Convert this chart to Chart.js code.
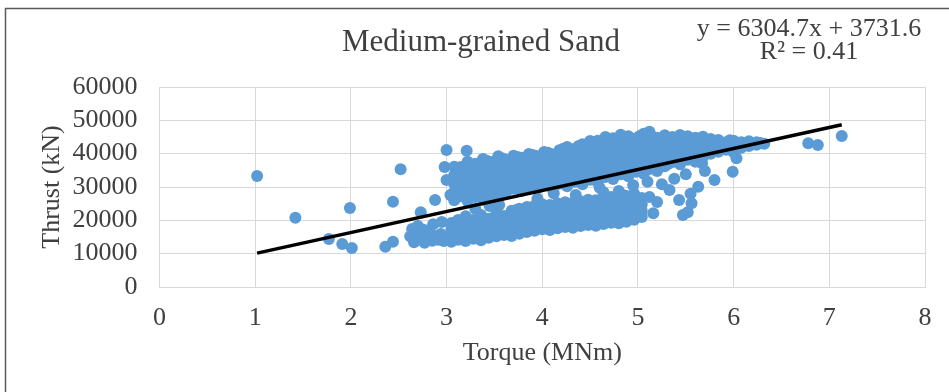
<!DOCTYPE html>
<html>
<head>
<meta charset="utf-8">
<script src="https://cdn.jsdelivr.net/npm/chart.js@4.4.1/dist/chart.umd.min.js"></script>
<style>
  html, body { margin: 0; padding: 0; background: #fff; }
  #wrap { position: relative; width: 949px; height: 392px; }
</style>
</head>
<body>
<div id="wrap"><canvas id="grafico"></canvas></div>
<script>
/* Medium-grained Sand · thrust vs torque scatter */

const xTicks = [0, 1, 2, 3, 4, 5, 6, 7, 8];
const yTicks = [0, 10000, 20000, 30000, 40000, 50000, 60000];

// upper band, read column by column (torque -> thrust values)
const upperTorque = [3.08, 3.15, 3.22, 3.30, 3.38, 3.46, 3.54, 3.62, 3.70, 3.78, 3.86, 3.94,
                     4.02, 4.10, 4.18, 4.26, 4.34, 4.42, 4.50, 4.58, 4.66, 4.74, 4.82, 4.90,
                     4.98, 5.06, 5.12, 5.20, 5.28, 5.36, 5.44, 5.52, 5.60, 5.68, 5.76, 5.84,
                     5.92, 6.00, 6.08, 6.16, 6.24, 6.32];
const upperThrust = [
  [26000, 28500, 31000, 33500, 36100],
  [27200, 29700, 32200, 34700, 36000],
  [25800, 28300, 30800, 33300, 35800, 37600],
  [27000, 29500, 32000, 34500, 37000],
  [26200, 28700, 31200, 33700, 36200, 38400],
  [27500, 30000, 32500, 35000, 37500],
  [26800, 29300, 31800, 34300, 36800, 39200],
  [28200, 30700, 33200, 35700, 38200],
  [29500, 32000, 34500, 37000, 39400],
  [28800, 31300, 33800, 36300, 38800],
  [30200, 32700, 35200, 37700, 39900],
  [29300, 31800, 34300, 36800, 39300],
  [30600, 33100, 35600, 38100, 40500],
  [29800, 32300, 34800, 37300, 39800],
  [31000, 33500, 36000, 38500, 41000],
  [30200, 32700, 35200, 37700, 40200, 42000],
  [31600, 34100, 36600, 39100, 41500],
  [30800, 33300, 35800, 38300, 40800, 42800],
  [32200, 34700, 37200, 39700, 42200, 43800],
  [31400, 33900, 36400, 38900, 41400, 43900],
  [33000, 35500, 38000, 40500, 43000, 45000],
  [32400, 34900, 37400, 39900, 42400, 44600],
  [33800, 36300, 38800, 41300, 43800, 45700],
  [33200, 35700, 38200, 40700, 43200, 45200],
  [34600, 37100, 39600, 42100, 44600],
  [34000, 36500, 39000, 41500, 44000, 46000],
  [35400, 37900, 40400, 42900, 46600],
  [34800, 37300, 39800, 42300, 44800],
  [36200, 38700, 41200, 43700, 45500],
  [37500, 40000, 42500, 45000],
  [36800, 39300, 41800, 44300, 45600],
  [38200, 40700, 43200, 45200],
  [37600, 40100, 42600, 44800],
  [39000, 41500, 43900, 45100],
  [40000, 42500, 44400],
  [40600, 43000, 44100],
  [41200, 43400],
  [40400, 42600, 43900],
  [41800, 43400],
  [42300, 43700],
  [42700, 43400],
  [43000]
];

// points sitting between the upper columns
const upperFillTorque = [3.12, 3.26, 3.42, 3.58, 3.74, 3.90, 4.06, 4.22, 4.38, 4.54, 4.70,
                         4.86, 5.02, 5.16, 5.32, 5.48, 5.64, 5.80, 5.96, 6.12, 6.28];
const upperFillThrust = [
  [30100, 34900],
  [28900, 33600, 36400],
  [29400, 34100, 37900],
  [30500, 35300, 38600],
  [31000, 35800, 39000],
  [31500, 36200, 39600],
  [32000, 36900, 40300],
  [32800, 37400, 41500],
  [33300, 38000, 42300],
  [33700, 38600, 42900],
  [34200, 39200, 44000],
  [35000, 39900, 44800],
  [35600, 40500, 45300],
  [36300, 41100, 45000],
  [37000, 41800, 44600],
  [38300, 42400, 45000],
  [39200, 42900],
  [41500, 43600],
  [42000, 44000],
  [42800],
  [43200]
];

// lower band
const lowerTorque = [3.05, 3.12, 3.20, 3.28, 3.36, 3.44, 3.52, 3.60, 3.68, 3.76, 3.84, 3.92,
                     4.00, 4.08, 4.16, 4.24, 4.32, 4.40, 4.48, 4.56, 4.64, 4.72, 4.80, 4.88,
                     4.96, 5.04];
const lowerThrust = [
  [13600, 15400, 17300, 19200],
  [14200, 16000, 17900, 20100],
  [13800, 15700, 17600, 19500, 21200],
  [14500, 16300, 18200, 20100],
  [14000, 15900, 17800, 19700, 21600],
  [14800, 16700, 18600, 20500],
  [15200, 17100, 19000, 20900, 22500],
  [15600, 17500, 19400, 21300],
  [15300, 17200, 19100, 21000, 22900],
  [16000, 17900, 19800, 21700, 23500],
  [16500, 18400, 20300, 22200, 24000],
  [16900, 18800, 20700, 22600, 24400],
  [17300, 19200, 21100, 23000, 24800],
  [17100, 19000, 20900, 22800, 24600],
  [17600, 19500, 21400, 23300, 25100],
  [18000, 19900, 21800, 23700, 25400],
  [17800, 19700, 21600, 23500, 25300],
  [18300, 20200, 22100, 24000, 25700],
  [18600, 20500, 22400, 24300, 26200],
  [18400, 20300, 22200, 24100, 26000],
  [18900, 20800, 22700, 24600, 26600, 28400],
  [19300, 21200, 23100, 25000, 27000],
  [19100, 21000, 22900, 24800, 26800, 28800],
  [19600, 21500, 23400, 25300, 27300],
  [20200, 22100, 24000, 25900, 28000],
  [21000, 22900, 24800, 26700]
];

const lowerFillTorque = [3.09, 3.24, 3.40, 3.56, 3.72, 3.88, 4.04, 4.20, 4.36, 4.52, 4.68, 4.84, 5.00];
const lowerFillThrust = [
  [14800, 18500],
  [15100, 18900],
  [15500, 19300],
  [16200, 20000],
  [16800, 20500, 23000],
  [17400, 21200, 23600],
  [18100, 21800, 24200],
  [18700, 22500, 24700],
  [19000, 22900, 25000],
  [19500, 23300, 25500],
  [20000, 23900, 26500],
  [20700, 24400, 27600],
  [21800, 25400]
];

// single points: left tail, low cluster, gap, right branch, far right
const looseTorque = [1.02, 1.42, 1.77, 1.91, 2.01, 1.99, 2.36, 2.44, 2.44, 2.52, 2.73, 2.88, 2.98, 3.00, 3.21, 3.04, 3.00,
                     2.62, 2.64, 2.66, 2.69, 2.71, 2.74, 2.77, 2.80, 2.82, 2.85, 2.88, 2.91, 2.94, 2.97, 2.99, 2.70, 2.76, 2.86, 2.95,
                     3.30, 3.45, 3.55, 3.95, 4.12, 4.35, 4.60,
                     5.02, 5.16, 5.12, 5.20, 5.25, 5.33, 5.38, 5.43, 5.47, 5.52, 5.56, 5.55, 5.50, 5.63, 5.67, 5.70, 5.80, 5.99, 6.03, 5.10, 4.95, 4.88,
                     6.78, 6.88, 7.13];
const looseThrust = [33300, 20800, 14400, 12900, 11700, 23700, 12100, 13600, 25600, 35300, 22400, 26100, 36000, 41100, 40900, 27600, 32100,
                     15200, 17400, 13400, 16300, 14300, 15500, 13300, 14900, 16700, 13900, 15300, 14200, 15900, 13800, 14700, 18300, 17200, 18800, 19500,
                     23500, 24300, 24600, 26500, 28100, 27600, 29800,
                     23600, 22100, 27000, 25500, 30800, 29100, 32500, 26100, 21600, 22400, 25100, 28000, 33800, 30100, 37100, 34800, 32100, 34600, 38600, 31600, 30500, 20600,
                     43100, 42600, 45300];

// linear trend as printed on the chart
const trendTorque = [1.02, 7.13];
const trendThrust = [10162, 48685];

const chartTitle = 'Medium-grained Sand';
const eqLines = ['y = 6304.7x + 3731.6', 'R\u00B2 = 0.41'];

const SERIF = "'Liberation Serif', 'Times New Roman', serif";
const TXT = '#404040';

function buildPoints() {
  const pts = [];
  const cols = [
    [upperTorque, upperThrust], [upperFillTorque, upperFillThrust],
    [lowerTorque, lowerThrust], [lowerFillTorque, lowerFillThrust]
  ];
  cols.forEach(([xs, ys]) => xs.forEach((x, i) => ys[i].forEach(y => pts.push({ x, y }))));
  looseTorque.forEach((x, i) => pts.push({ x, y: looseThrust[i] }));
  return pts;
}

// frame, title and equation
const decor = {
  id: 'decor',
  beforeDraw(chart) {
    const c = chart.ctx;
    c.save();
    c.fillStyle = '#fff';
    c.fillRect(0, 0, chart.width, chart.height);
    c.strokeStyle = '#595959';
    c.lineWidth = 1.5;
    c.beginPath();
    c.moveTo(5.5, chart.height);
    c.lineTo(5.5, 8.5);
    c.lineTo(chart.width, 8.5);
    c.stroke();
    c.restore();
  },
  afterDraw(chart) {
    const c = chart.ctx;
    c.save();
    c.fillStyle = TXT;
    c.textAlign = 'center';
    c.textBaseline = 'middle';
    c.font = `31px ${SERIF}`;
    c.fillText(chartTitle, 481, 43);
    c.font = `26px ${SERIF}`;
    c.fillText(eqLines[0], 809, 29);
    c.fillText(eqLines[1], 809, 52);
    c.restore();
  }
};

new Chart(document.getElementById('grafico'), {
  type: 'scatter',
  data: {
    datasets: [
      {
        type: 'line',
        label: 'Linear',
        data: trendTorque.map((x, i) => ({ x, y: trendThrust[i] })),
        borderColor: '#000',
        borderWidth: 3.5,
        pointRadius: 0,
        fill: false,
        order: 0
      },
      {
        label: 'Thrust',
        data: buildPoints(),
        backgroundColor: '#5B9BD5',
        borderWidth: 0,
        pointRadius: 6,
        order: 1
      }
    ]
  },
  options: {
    responsive: true,
    maintainAspectRatio: false,
    animation: false,
    layout: { padding: { left: 0, right: 24, top: 87, bottom: 0 } },
    plugins: {
      legend: { display: false },
      tooltip: { enabled: false },
      title: { display: false }
    },
    scales: {
      x: {
        type: 'linear',
        min: xTicks[0],
        max: xTicks[xTicks.length - 1],
        ticks: { stepSize: xTicks[1] - xTicks[0], autoSkip: false, maxRotation: 0, padding: 16, color: TXT, font: { family: SERIF, size: 26 } },
        grid: { color: '#D9D9D9', drawTicks: false },
        border: { color: '#D9D9D9' },
        title: { display: true, text: 'Torque (MNm)', color: TXT, font: { family: SERIF, size: 26 }, padding: { top: 0, bottom: 23 } },
        afterFit: s => { s.height = 105; }
      },
      y: {
        type: 'linear',
        min: yTicks[0],
        max: yTicks[yTicks.length - 1],
        ticks: { stepSize: yTicks[1] - yTicks[0], autoSkip: false, padding: 22, color: TXT, font: { family: SERIF, size: 26 }, callback: v => String(v) },
        grid: { color: '#D9D9D9', drawTicks: false },
        border: { color: '#D9D9D9' },
        title: { display: true, text: 'Thrust (kN)', color: TXT, font: { family: SERIF, size: 26 }, padding: { top: 37, bottom: 0 } },
        afterFit: s => { s.width = 159.5; }
      }
    }
  },
  plugins: [decor]
});
</script>
</body>
</html>
